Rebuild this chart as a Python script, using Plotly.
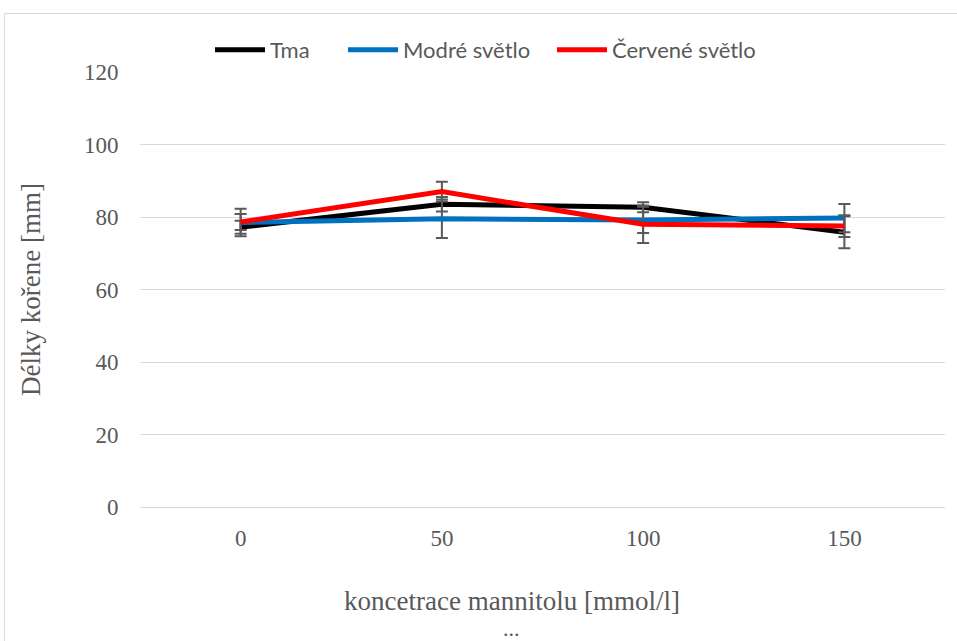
import plotly.graph_objects as go

categories = ["0", "50", "100", "150"]
series_names = ["Tma", "Modré světlo", "Červené světlo"]
tma = [77.2, 83.5, 82.7, 75.8]
modre = [78.5, 79.5, 79.2, 79.7]
cervene = [78.6, 87.0, 78.0, 77.5]
tma_err = [1.8, 2.0, 1.4, 4.4]
modre_err = [3.8, 5.3, 3.6, 3.9]
cervene_err = [2.2, 2.7, 5.2, 3.0]
colors = ["#000000", "#0070C0", "#FF0000"]

W, H = 957, 641
L, R, T, B = 140, 12, 72, 134
pw, ph = W - L - R, H - T - B

def px_x(p):
    return (p - L) / pw

def px_y(p):
    return (H - B - p) / ph

legend_ids = ["legend", "legend2", "legend3"]
legend_left_px = [210, 343, 552]

fig = go.Figure()
for name, vals, errs, col, lg in zip(series_names, [tma, modre, cervene],
                                     [tma_err, modre_err, cervene_err], colors, legend_ids):
    fig.add_trace(go.Scatter(
        x=categories, y=vals, name=name, mode="lines",
        line=dict(color=col, width=5),
        legend=lg,
        error_y=dict(type="data", array=errs, visible=True,
                     color="#595959", thickness=2, width=6),
    ))

serif = "Liberation Serif, Times New Roman, serif"
legend_font = dict(family="Lato, Open Sans, sans-serif", size=22, color="#595959")
legend_cfg = {}
for lg, lx in zip(legend_ids, legend_left_px):
    legend_cfg[lg] = dict(orientation="h", x=px_x(lx), xanchor="left", y=px_y(50),
                          yanchor="middle", font=legend_font, itemwidth=50,
                          bgcolor="rgba(0,0,0,0)")

fig.update_layout(
    width=W, height=H,
    margin=dict(l=L, r=R, t=T, b=B),
    paper_bgcolor="white", plot_bgcolor="white",
    showlegend=True,
    **legend_cfg,
    xaxis=dict(type="category", range=[-0.5, 3.5], showgrid=False,
               showline=True, linecolor="#d9d9d9", linewidth=1,
               ticks="outside", ticklen=10, tickcolor="rgba(0,0,0,0)",
               tickfont=dict(family=serif, size=23, color="#595959")),
    yaxis=dict(range=[0, 120], dtick=20, showgrid=True, gridcolor="#d9d9d9", gridwidth=1,
               zeroline=False, showline=False,
               ticks="outside", ticklen=16, tickcolor="rgba(0,0,0,0)",
               tickfont=dict(family=serif, size=23, color="#595959"),
               title=dict(text="Délky kořene [mm]", standoff=35,
                          font=dict(family=serif, size=27, color="#595959"))),
    shapes=[dict(type="rect", xref="paper", yref="paper",
                 x0=px_x(4.5), y0=px_y(700), x1=px_x(1000), y1=px_y(13.5),
                 line=dict(color="#d9d9d9", width=1), fillcolor="rgba(0,0,0,0)", layer="below")],
    annotations=[
        dict(text="koncetrace mannitolu [mmol/l]", xref="paper", yref="paper",
             x=px_x(512), y=px_y(601), showarrow=False, xanchor="center", yanchor="middle",
             font=dict(family=serif, size=27, color="#595959")),
        dict(text="...", xref="paper", yref="paper", x=px_x(511), y=px_y(628),
             showarrow=False, xanchor="center", yanchor="middle",
             font=dict(family=serif, size=22, color="#595959")),
    ],
)

fig.write_html("out.html", config={"displayModeBar": False},
               post_script="document.body.style.margin='0';document.body.style.overflow='hidden';")
